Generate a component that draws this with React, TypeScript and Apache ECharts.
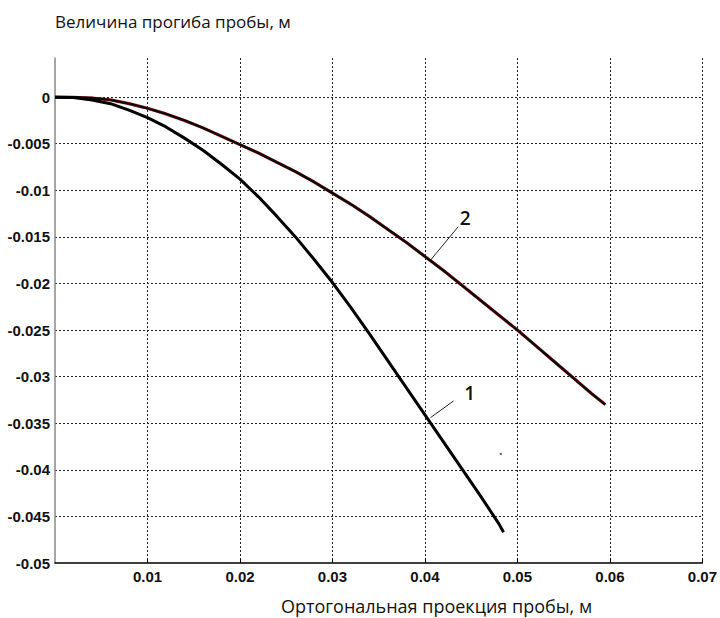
import React, { useEffect, useRef } from "react";
import * as echarts from "echarts";

const xValues1 = [0, 0.002, 0.004, 0.006, 0.008, 0.01, 0.012, 0.014, 0.016, 0.018, 0.02, 0.022, 0.024, 0.026, 0.028, 0.03, 0.032, 0.034, 0.036, 0.038, 0.04, 0.042, 0.044, 0.046, 0.048, 0.0485];
const yValues1 = [0, -0.00003, -0.0003, -0.0007, -0.0014, -0.0022, -0.0032, -0.0044, -0.0057, -0.0072, -0.0088, -0.0107, -0.0128, -0.015, -0.0174, -0.0199, -0.0226, -0.0254, -0.0283, -0.0312, -0.0341, -0.037, -0.0399, -0.0428, -0.0458, -0.0467];

const xValues2 = [0, 0.002, 0.004, 0.006, 0.008, 0.01, 0.012, 0.014, 0.016, 0.018, 0.02, 0.022, 0.024, 0.026, 0.028, 0.03, 0.032, 0.034, 0.036, 0.038, 0.04, 0.042, 0.044, 0.046, 0.048, 0.05, 0.052, 0.054, 0.056, 0.058, 0.0595];
const yValues2 = [0, -0.00002, -0.0001, -0.0003, -0.0007, -0.0012, -0.0018, -0.0025, -0.0033, -0.0042, -0.0051, -0.006, -0.007, -0.008, -0.0091, -0.0103, -0.0115, -0.0128, -0.0142, -0.0156, -0.0171, -0.0186, -0.0202, -0.0218, -0.0234, -0.025, -0.0267, -0.0284, -0.0301, -0.0318, -0.033];

// annotation leaders: [start on curve, end near label]
const leader1 = [[0.0406, -0.0344], [0.0431, -0.0326]];
const leader2 = [[0.0406, -0.0175], [0.0436, -0.0139]];
const speck = [[0.0482, -0.0383]];

const titleText = "Величина прогиба пробы, м";
const xAxisText = "Ортогональная проекция пробы, м";

function zip(xs: number[], ys: number[]) {
  return xs.map((x, i) => [x, ys[i]]);
}

export default function App() {
  const ref = useRef<HTMLDivElement>(null);
  useEffect(() => {
    if (!ref.current) return;
    const chart = echarts.init(ref.current, null, { renderer: "svg" });
    const tickFont = {
      fontFamily: "Liberation Sans, Arial, sans-serif",
      fontSize: 15,
      fontWeight: "bold",
      color: "#111",
    };
    const grid = { show: true, lineStyle: { color: "#222", type: [2, 2] as any, width: 1 }, showMinLine: false };
    const mk = (pts: number[][], label: string, dist: number) => ({
      silent: true,
      symbol: ["none", "none"],
      animation: false,
      lineStyle: { color: "#222", width: 1, type: "solid" },
      label: {
        show: true,
        position: "end",
        formatter: label,
        fontFamily: "Open Sans, sans-serif",
        fontSize: 19,
        fontWeight: 600,
        color: "#111",
        distance: dist,
      },
      data: [[{ coord: pts[0] }, { coord: pts[1] }]],
    });
    const textStyle = { fontFamily: "Open Sans, sans-serif", fontWeight: "normal", color: "#111" };
    chart.setOption({
      animation: false,
      backgroundColor: "#fff",
      grid: { left: 55, right: 14, top: 58, bottom: 55, containLabel: false },
      title: [
        { text: titleText, left: 50, top: 8, textStyle: { ...textStyle, fontSize: 17 } },
        { text: xAxisText, left: 276, top: 592, textStyle: { ...textStyle, fontSize: 18 } },
      ],
      xAxis: {
        type: "value",
        min: 0,
        max: 0.07,
        interval: 0.01,
        axisLine: { show: true, onZero: false, lineStyle: { color: "#000", width: 1.5 } },
        axisTick: { show: true, inside: true, length: 4, lineStyle: { color: "#000" } },
        axisLabel: { ...tickFont, margin: 6, showMinLabel: false },
        splitLine: grid,
      },
      yAxis: {
        type: "value",
        min: -0.05,
        max: 0.0042,
        interval: 0.005,
        axisLine: { show: true, onZero: false, lineStyle: { color: "#888", width: 1.5 } },
        axisTick: { show: false },
        axisLabel: { ...tickFont, margin: 5, showMaxLabel: false },
        splitLine: { ...grid, showMaxLine: false },
      },
      series: [
        {
          type: "line",
          data: zip(xValues2, yValues2),
          showSymbol: false,
          lineStyle: { color: "#c02828", width: 3.2 },
          z: 2,
        },
        {
          type: "line",
          data: zip(xValues2, yValues2),
          showSymbol: false,
          lineStyle: { color: "#0a0a0a", width: 2.4 },
          z: 3,
          markLine: mk(leader2, "2", 11),
        },
        {
          type: "line",
          data: zip(xValues1, yValues1),
          showSymbol: false,
          lineStyle: { color: "#000", width: 3 },
          z: 4,
          markLine: mk(leader1, "1", 13),
        },
        {
          type: "scatter",
          data: speck,
          symbolSize: 2,
          itemStyle: { color: "#222" },
          silent: true,
        },
      ],
    });
    return () => chart.dispose();
  }, []);
  return <div ref={ref} style={{ position: "fixed", left: 0, top: 0, width: 720, height: 618 }} />;
}
